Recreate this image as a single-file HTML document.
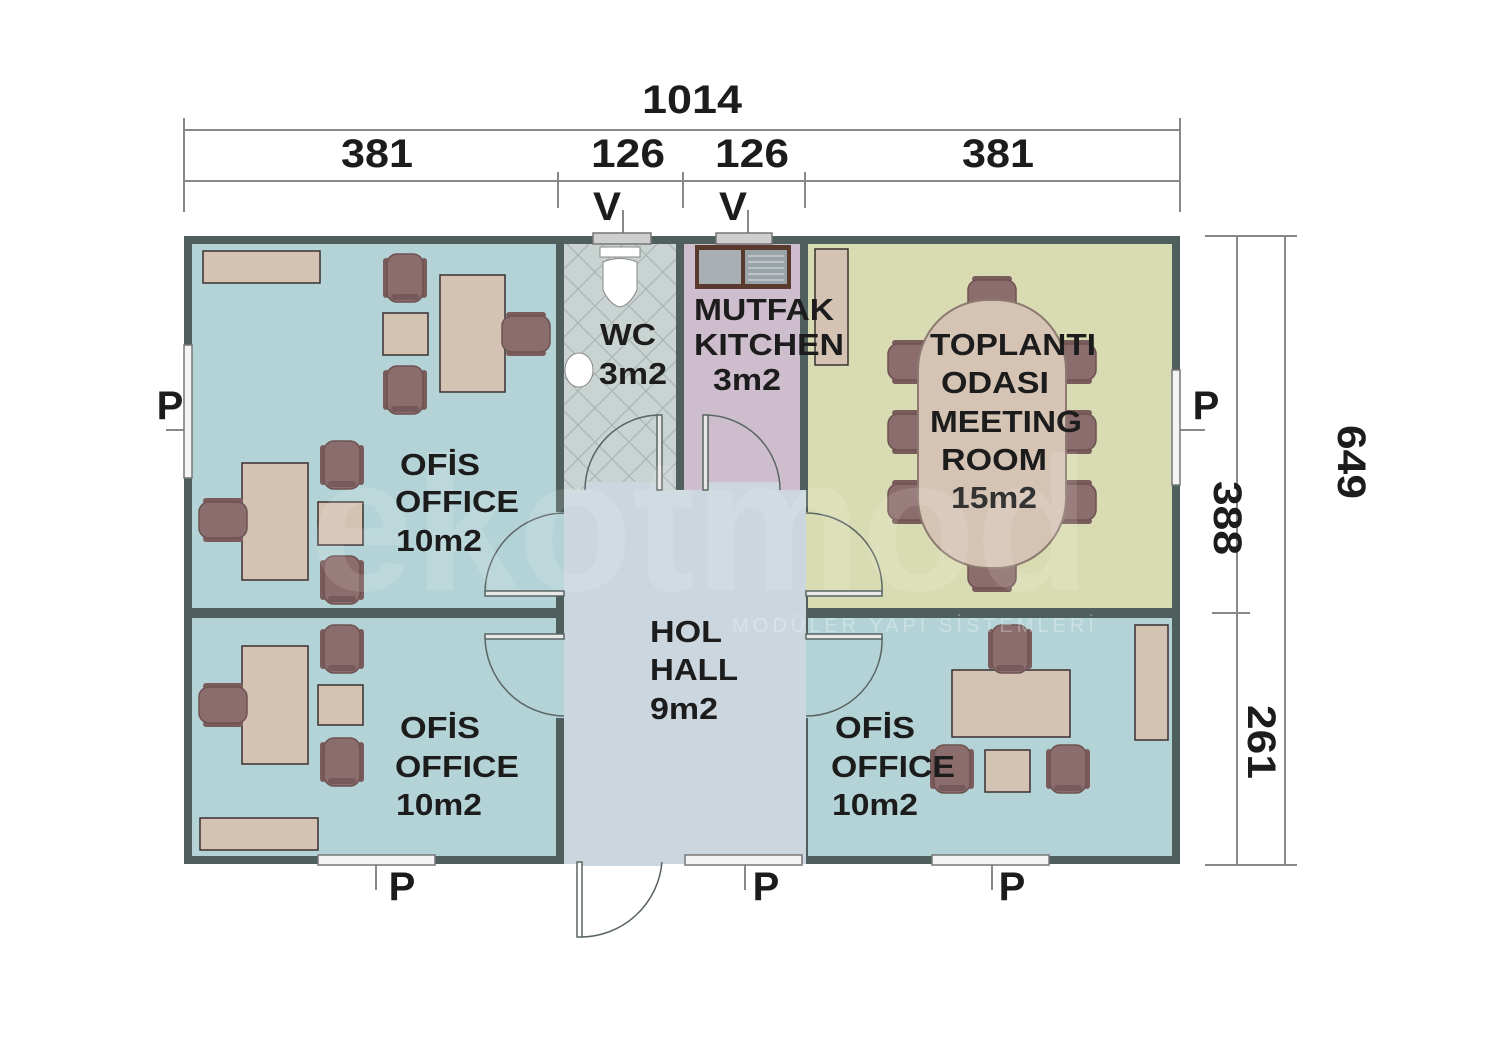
<!DOCTYPE html>
<html><head><meta charset="utf-8"><style>
html,body{margin:0;padding:0;background:#fff;width:1500px;height:1040px;overflow:hidden}
svg{display:block}
text{font-family:"Liberation Sans",sans-serif;font-weight:bold;fill:#1c1c1c}
</style></head><body>
<svg width="1500" height="1040" viewBox="0 0 1500 1040" xmlns="http://www.w3.org/2000/svg">
<defs>
<pattern id="tile" width="34" height="34" patternUnits="userSpaceOnUse">
<rect width="34" height="34" fill="#c9d3d1"/>
<path d="M0 17 L17 0 L34 17 L17 34 Z" fill="none" stroke="#a9b4b3" stroke-width="1.2"/>
</pattern>
<g id="chv"><rect x="0" y="4" width="6" height="40" rx="3" fill="#7a5c5c"/><rect x="38" y="4" width="6" height="40" rx="3" fill="#7a5c5c"/><rect x="4" y="0" width="36" height="48" rx="10" fill="#8c6d6d" stroke="#6e5252" stroke-width="1.5"/><rect x="8" y="40" width="28" height="6" rx="3" fill="#76595a"/></g>
<g id="chh"><rect x="4" y="0" width="40" height="6" rx="3" fill="#7a5c5c"/><rect x="4" y="38" width="40" height="6" rx="3" fill="#7a5c5c"/><rect x="0" y="4" width="48" height="36" rx="10" fill="#8c6d6d" stroke="#6e5252" stroke-width="1.5"/></g>
</defs>

<g stroke="#888" stroke-width="2" fill="none">
<line x1="184" y1="130" x2="1180" y2="130"/>
<line x1="184" y1="181" x2="1180" y2="181"/>
<line x1="184" y1="118" x2="184" y2="212"/>
<line x1="1180" y1="118" x2="1180" y2="212"/>
<line x1="558" y1="172" x2="558" y2="208"/>
<line x1="683" y1="172" x2="683" y2="208"/>
<line x1="805" y1="172" x2="805" y2="208"/>
<line x1="1237" y1="236" x2="1237" y2="865"/>
<line x1="1285" y1="236" x2="1285" y2="865"/>
<line x1="1205" y1="236" x2="1297" y2="236"/>
<line x1="1205" y1="865" x2="1297" y2="865"/>
<line x1="1212" y1="613" x2="1250" y2="613"/>
<line x1="623" y1="210" x2="623" y2="236"/>
<line x1="748" y1="210" x2="748" y2="236"/>
<line x1="192" y1="430" x2="166" y2="430"/>
<line x1="1180" y1="430" x2="1205" y2="430"/>
<line x1="376" y1="864" x2="376" y2="890"/>
<line x1="745" y1="864" x2="745" y2="890"/>
<line x1="992" y1="864" x2="992" y2="890"/>
</g>
<g font-size="40" text-anchor="middle">
<text x="692" y="113" textLength="100" lengthAdjust="spacingAndGlyphs">1014</text>
<text x="377" y="167" textLength="72" lengthAdjust="spacingAndGlyphs">381</text>
<text x="628" y="167" textLength="74" lengthAdjust="spacingAndGlyphs">126</text>
<text x="752" y="167" textLength="74" lengthAdjust="spacingAndGlyphs">126</text>
<text x="998" y="167" textLength="72" lengthAdjust="spacingAndGlyphs">381</text>
<text x="607" y="220" textLength="28" lengthAdjust="spacingAndGlyphs">V</text>
<text x="733" y="220" textLength="28" lengthAdjust="spacingAndGlyphs">V</text>
<text transform="translate(1352,462) rotate(90)" y="14" textLength="74" lengthAdjust="spacingAndGlyphs">649</text>
<text transform="translate(1228,518) rotate(90)" y="14" textLength="74" lengthAdjust="spacingAndGlyphs">388</text>
<text transform="translate(1262,742) rotate(90)" y="14" textLength="74" lengthAdjust="spacingAndGlyphs">261</text>
<text x="170" y="419">P</text>
<text x="1206" y="419">P</text>
<text x="402" y="900">P</text>
<text x="766" y="900">P</text>
<text x="1012" y="900">P</text>
</g>

<rect x="184" y="236" width="996" height="628" fill="#4f5f5d"/>
<rect x="192" y="244" width="364" height="364" fill="#b4d3d6"/>
<rect x="192" y="618" width="364" height="238" fill="#b4d3d6"/>
<rect x="564" y="244" width="112" height="246" fill="url(#tile)"/>
<rect x="684" y="244" width="116" height="246" fill="#cdbdcd"/>
<rect x="808" y="244" width="364" height="364" fill="#d9dcb2"/>
<rect x="808" y="618" width="364" height="238" fill="#b4d3d6"/>
<rect x="564" y="490" width="242" height="374" fill="#cbd6df"/>
<rect x="556" y="512" width="8" height="82" fill="#b4d3d6"/>
<rect x="556" y="636" width="8" height="82" fill="#b4d3d6"/>
<rect x="806" y="512" width="2" height="82" fill="#d9dcb2"/>
<rect x="806" y="636" width="2" height="82" fill="#b4d3d6"/>
<rect x="584" y="482" width="76" height="8" fill="#cbd6df"/>
<rect x="704" y="482" width="76" height="8" fill="#cbd6df"/>
<rect x="580" y="854" width="82" height="12" fill="#cbd6df"/>

<g fill="#f4f4f4" stroke="#777" stroke-width="1.5">
<rect x="184" y="345" width="8" height="133"/>
<rect x="1172" y="370" width="8" height="115"/>
<rect x="318" y="855" width="117" height="10"/>
<rect x="685" y="855" width="117" height="10"/>
<rect x="932" y="855" width="117" height="10"/>
<rect x="593" y="233" width="58" height="11" fill="#cfcfcf"/>
<rect x="716" y="233" width="56" height="11" fill="#cfcfcf"/>
</g>

<g fill="none" stroke="#5a6563" stroke-width="1.5">
<path d="M660 415 A75 75 0 0 0 585 490"/>
<rect x="657" y="415" width="5" height="75" fill="#e8e8e8"/>
<path d="M705 415 A75 75 0 0 1 780 490"/>
<rect x="703" y="415" width="5" height="75" fill="#e8e8e8"/>
<path d="M485 593 A80 80 0 0 1 564 513"/>
<rect x="485" y="591" width="79" height="5" fill="#e8e8e8"/>
<path d="M485 636 A80 80 0 0 0 564 716"/>
<rect x="485" y="634" width="79" height="5" fill="#e8e8e8"/>
<path d="M882 593 A76 76 0 0 0 806 513"/>
<rect x="806" y="591" width="76" height="5" fill="#e8e8e8"/>
<path d="M882 636 A76 76 0 0 1 806 716"/>
<rect x="806" y="634" width="76" height="5" fill="#e8e8e8"/>
<path d="M580 937 A82 82 0 0 0 662 862"/>
<rect x="577" y="862" width="5" height="75" fill="#fff"/>
</g>

<g fill="#d4c2b2" stroke="#3a3030" stroke-width="1.5">
<rect x="203" y="251" width="117" height="32"/>
<rect x="440" y="275" width="65" height="117"/>
<rect x="383" y="313" width="45" height="42"/>
<rect x="242" y="463" width="66" height="117"/>
<rect x="318" y="502" width="45" height="43"/>
<rect x="242" y="646" width="66" height="118"/>
<rect x="318" y="685" width="45" height="40"/>
<rect x="200" y="818" width="118" height="32"/>
<rect x="952" y="670" width="118" height="67"/>
<rect x="985" y="750" width="45" height="42"/>
<rect x="1135" y="625" width="33" height="115"/>
<rect x="815" y="249" width="33" height="116"/>
</g>
<rect x="695" y="245" width="96" height="44" fill="#5b3a2e"/>
<rect x="699" y="250" width="42" height="34" fill="#a9b0b4"/>
<rect x="745" y="250" width="42" height="34" fill="#9aa3a8"/>
<g stroke="#c8ced1" stroke-width="1.5"><line x1="748" y1="256" x2="784" y2="256"/><line x1="748" y1="262" x2="784" y2="262"/><line x1="748" y1="268" x2="784" y2="268"/><line x1="748" y1="274" x2="784" y2="274"/><line x1="748" y1="280" x2="784" y2="280"/></g>
<rect x="600" y="247" width="40" height="10" fill="#fff" stroke="#888"/>
<path d="M603 262 Q620 255 637 262 L637 290 Q630 305 620 307 Q610 305 603 290 Z" fill="#fff" stroke="#888"/>
<ellipse cx="579" cy="370" rx="14" ry="17" fill="#fff" stroke="#888"/>

<use href="#chv" x="383" y="254"/>
<use href="#chv" x="383" y="366"/>
<use href="#chh" x="502" y="312"/>
<use href="#chv" x="320" y="441"/>
<use href="#chh" x="199" y="498"/>
<use href="#chv" x="320" y="556"/>
<use href="#chv" x="320" y="625"/>
<use href="#chh" x="199" y="683"/>
<use href="#chv" x="320" y="738"/>
<use href="#chv" x="988" y="625"/>
<use href="#chv" x="930" y="745"/>
<use href="#chv" x="1046" y="745"/>
<use href="#chh" x="968" y="276"/>
<use href="#chh" x="968" y="548"/>
<use href="#chh" x="888" y="340"/>
<use href="#chh" x="888" y="410"/>
<use href="#chh" x="888" y="480"/>
<use href="#chh" x="1048" y="340"/>
<use href="#chh" x="1048" y="410"/>
<use href="#chh" x="1048" y="480"/>
<rect x="918" y="300" width="148" height="268" rx="70" fill="#d5c3b4" stroke="#8c7a70" stroke-width="2"/>

<text x="700" y="590" text-anchor="middle" font-size="190" style="fill:#ffffff;fill-opacity:0.12" textLength="780" lengthAdjust="spacingAndGlyphs">ekotmod</text>
<text x="915" y="632" text-anchor="middle" font-size="20" style="fill:#ffffff;fill-opacity:0.3;font-weight:normal;letter-spacing:4px">MODÜLER YAPI SİSTEMLERİ</text>

<g font-size="31">
<text x="400" y="475" textLength="80" lengthAdjust="spacingAndGlyphs">OFİS</text>
<text x="395" y="512" textLength="124" lengthAdjust="spacingAndGlyphs">OFFICE</text>
<text x="396" y="551" textLength="86" lengthAdjust="spacingAndGlyphs">10m2</text>
<text x="400" y="738" textLength="80" lengthAdjust="spacingAndGlyphs">OFİS</text>
<text x="395" y="777" textLength="124" lengthAdjust="spacingAndGlyphs">OFFICE</text>
<text x="396" y="815" textLength="86" lengthAdjust="spacingAndGlyphs">10m2</text>
<text x="835" y="738" textLength="80" lengthAdjust="spacingAndGlyphs">OFİS</text>
<text x="831" y="777" textLength="124" lengthAdjust="spacingAndGlyphs">OFFICE</text>
<text x="832" y="815" textLength="86" lengthAdjust="spacingAndGlyphs">10m2</text>
<text x="650" y="642" textLength="72" lengthAdjust="spacingAndGlyphs">HOL</text>
<text x="650" y="680" textLength="88" lengthAdjust="spacingAndGlyphs">HALL</text>
<text x="650" y="719" textLength="68" lengthAdjust="spacingAndGlyphs">9m2</text>
<text x="600" y="345" textLength="56" lengthAdjust="spacingAndGlyphs">WC</text>
<text x="599" y="384" textLength="68" lengthAdjust="spacingAndGlyphs">3m2</text>
<text x="694" y="320" textLength="140" lengthAdjust="spacingAndGlyphs">MUTFAK</text>
<text x="694" y="355" textLength="150" lengthAdjust="spacingAndGlyphs">KITCHEN</text>
<text x="713" y="390" textLength="68" lengthAdjust="spacingAndGlyphs">3m2</text>
<text x="930" y="355" textLength="166" lengthAdjust="spacingAndGlyphs">TOPLANTI</text>
<text x="941" y="393" textLength="108" lengthAdjust="spacingAndGlyphs">ODASI</text>
<text x="930" y="432" textLength="152" lengthAdjust="spacingAndGlyphs">MEETING</text>
<text x="941" y="470" textLength="106" lengthAdjust="spacingAndGlyphs">ROOM</text>
<text x="951" y="508" textLength="86" lengthAdjust="spacingAndGlyphs" style="fill:#333">15m2</text>
</g>
</svg>
</body></html>
